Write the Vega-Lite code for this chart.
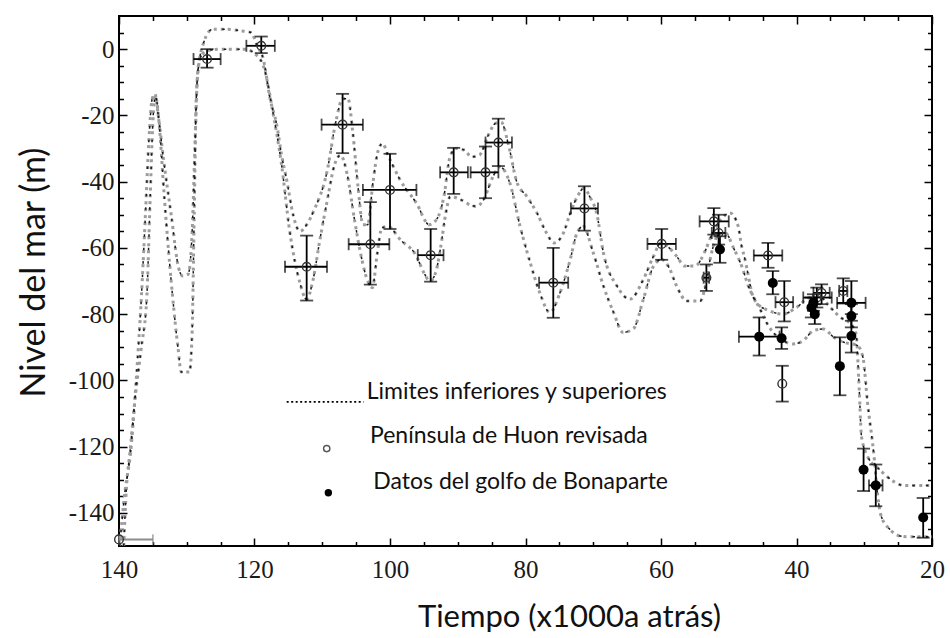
{
  "$schema": "https://vega.github.io/schema/vega-lite/v6.json",
  "width": 813,
  "height": 530,
  "autosize": "none",
  "padding": {"left": 119, "top": 16, "right": 18, "bottom": 92},
  "background": "white",
  "config": {
    "view": {"stroke": "#000", "strokeWidth": 2},
    "axis": {"grid": false, "domain": false, "tickColor": "#000", "tickWidth": 1.5}
  },
  "datasets": {
    "curvas": [
      {"t":139.9,"nivel":-150,"limite":"sup"},{"t":139.2,"nivel":-135,"limite":"sup"},{"t":138.2,"nivel":-120,"limite":"sup"},{"t":137.4,"nivel":-98,"limite":"sup"},{"t":136.7,"nivel":-75,"limite":"sup"},{"t":136.1,"nivel":-50,"limite":"sup"},{"t":135.6,"nivel":-28,"limite":"sup"},{"t":135.1,"nivel":-15,"limite":"sup"},{"t":134.7,"nivel":-13.5,"limite":"sup"},{"t":134.2,"nivel":-20,"limite":"sup"},{"t":133.5,"nivel":-32,"limite":"sup"},{"t":132.3,"nivel":-50,"limite":"sup"},{"t":131.2,"nivel":-66,"limite":"sup"},{"t":130.6,"nivel":-68.5,"limite":"sup"},{"t":129.8,"nivel":-68,"limite":"sup"},{"t":129.2,"nivel":-55,"limite":"sup"},{"t":128.8,"nivel":-30,"limite":"sup"},{"t":128.4,"nivel":-8,"limite":"sup"},{"t":127.5,"nivel":2,"limite":"sup"},{"t":126.2,"nivel":6,"limite":"sup"},{"t":124,"nivel":6,"limite":"sup"},{"t":122,"nivel":5.5,"limite":"sup"},{"t":120.5,"nivel":5,"limite":"sup"},{"t":119.6,"nivel":1,"limite":"sup"},{"t":118.7,"nivel":-3,"limite":"sup"},{"t":117.7,"nivel":-15,"limite":"sup"},{"t":116.7,"nivel":-23,"limite":"sup"},{"t":116,"nivel":-32,"limite":"sup"},{"t":115.2,"nivel":-40,"limite":"sup"},{"t":114.3,"nivel":-50,"limite":"sup"},{"t":113.3,"nivel":-55,"limite":"sup"},{"t":112.3,"nivel":-53,"limite":"sup"},{"t":111.3,"nivel":-49,"limite":"sup"},{"t":109.3,"nivel":-37,"limite":"sup"},{"t":108,"nivel":-22,"limite":"sup"},{"t":107,"nivel":-15,"limite":"sup"},{"t":106.2,"nivel":-15,"limite":"sup"},{"t":105.5,"nivel":-25,"limite":"sup"},{"t":104.7,"nivel":-42,"limite":"sup"},{"t":104,"nivel":-53,"limite":"sup"},{"t":103.3,"nivel":-53,"limite":"sup"},{"t":102.5,"nivel":-40,"limite":"sup"},{"t":101.8,"nivel":-31,"limite":"sup"},{"t":101.1,"nivel":-28.5,"limite":"sup"},{"t":100.3,"nivel":-32,"limite":"sup"},{"t":98.5,"nivel":-39.5,"limite":"sup"},{"t":96.1,"nivel":-46.5,"limite":"sup"},{"t":94.2,"nivel":-53,"limite":"sup"},{"t":93,"nivel":-51,"limite":"sup"},{"t":92,"nivel":-44,"limite":"sup"},{"t":91.2,"nivel":-33,"limite":"sup"},{"t":90.3,"nivel":-30,"limite":"sup"},{"t":89,"nivel":-30.5,"limite":"sup"},{"t":88,"nivel":-32.5,"limite":"sup"},{"t":86.8,"nivel":-32,"limite":"sup"},{"t":85.5,"nivel":-26,"limite":"sup"},{"t":84.5,"nivel":-22.5,"limite":"sup"},{"t":83.6,"nivel":-22,"limite":"sup"},{"t":82.5,"nivel":-29,"limite":"sup"},{"t":81.3,"nivel":-40,"limite":"sup"},{"t":79.8,"nivel":-44.5,"limite":"sup"},{"t":78.3,"nivel":-49.5,"limite":"sup"},{"t":76.9,"nivel":-55.5,"limite":"sup"},{"t":75.8,"nivel":-58.5,"limite":"sup"},{"t":74.4,"nivel":-55.5,"limite":"sup"},{"t":73.4,"nivel":-49.5,"limite":"sup"},{"t":72.2,"nivel":-44,"limite":"sup"},{"t":71.4,"nivel":-42,"limite":"sup"},{"t":70.4,"nivel":-45,"limite":"sup"},{"t":69.5,"nivel":-49.5,"limite":"sup"},{"t":68.5,"nivel":-61.5,"limite":"sup"},{"t":66.5,"nivel":-71.5,"limite":"sup"},{"t":64.6,"nivel":-75.5,"limite":"sup"},{"t":62.6,"nivel":-69.5,"limite":"sup"},{"t":61.1,"nivel":-62.5,"limite":"sup"},{"t":60,"nivel":-58.5,"limite":"sup"},{"t":58.8,"nivel":-60,"limite":"sup"},{"t":57.7,"nivel":-62.5,"limite":"sup"},{"t":56.5,"nivel":-65.5,"limite":"sup"},{"t":55,"nivel":-65.5,"limite":"sup"},{"t":53.5,"nivel":-61,"limite":"sup"},{"t":52.5,"nivel":-56,"limite":"sup"},{"t":51,"nivel":-51,"limite":"sup"},{"t":49.8,"nivel":-49.5,"limite":"sup"},{"t":48.6,"nivel":-53.5,"limite":"sup"},{"t":48.1,"nivel":-59.5,"limite":"sup"},{"t":47.6,"nivel":-63.5,"limite":"sup"},{"t":47.1,"nivel":-68.5,"limite":"sup"},{"t":46.6,"nivel":-73.5,"limite":"sup"},{"t":45.9,"nivel":-76.5,"limite":"sup"},{"t":44,"nivel":-79,"limite":"sup"},{"t":42,"nivel":-80,"limite":"sup"},{"t":40,"nivel":-78,"limite":"sup"},{"t":38,"nivel":-75,"limite":"sup"},{"t":36.5,"nivel":-75,"limite":"sup"},{"t":35,"nivel":-78,"limite":"sup"},{"t":33.5,"nivel":-81,"limite":"sup"},{"t":32,"nivel":-83,"limite":"sup"},{"t":31.2,"nivel":-86,"limite":"sup"},{"t":30.8,"nivel":-100,"limite":"sup"},{"t":30.4,"nivel":-117,"limite":"sup"},{"t":29.5,"nivel":-123,"limite":"sup"},{"t":27.7,"nivel":-127,"limite":"sup"},{"t":25.7,"nivel":-130.5,"limite":"sup"},{"t":24.2,"nivel":-131.7,"limite":"sup"},{"t":20,"nivel":-131.7,"limite":"sup"},
      {"t":139.3,"nivel":-150,"limite":"inf"},{"t":139,"nivel":-136,"limite":"inf"},{"t":138.3,"nivel":-120,"limite":"inf"},{"t":137.6,"nivel":-105,"limite":"inf"},{"t":136.7,"nivel":-90,"limite":"inf"},{"t":135.9,"nivel":-75,"limite":"inf"},{"t":135.4,"nivel":-45,"limite":"inf"},{"t":135,"nivel":-22,"limite":"inf"},{"t":134.6,"nivel":-14,"limite":"inf"},{"t":134.1,"nivel":-22,"limite":"inf"},{"t":133.3,"nivel":-45,"limite":"inf"},{"t":132.3,"nivel":-70,"limite":"inf"},{"t":131.3,"nivel":-90,"limite":"inf"},{"t":130.8,"nivel":-97.5,"limite":"inf"},{"t":129.6,"nivel":-97.5,"limite":"inf"},{"t":129.2,"nivel":-85,"limite":"inf"},{"t":128.9,"nivel":-50,"limite":"inf"},{"t":128.6,"nivel":-15,"limite":"inf"},{"t":128.1,"nivel":-3,"limite":"inf"},{"t":127,"nivel":-0.5,"limite":"inf"},{"t":125,"nivel":0,"limite":"inf"},{"t":121.3,"nivel":0,"limite":"inf"},{"t":120.2,"nivel":-1,"limite":"inf"},{"t":118.7,"nivel":-5,"limite":"inf"},{"t":117.2,"nivel":-20,"limite":"inf"},{"t":116,"nivel":-35,"limite":"inf"},{"t":114.8,"nivel":-55,"limite":"inf"},{"t":113.3,"nivel":-70.5,"limite":"inf"},{"t":112.3,"nivel":-75.6,"limite":"inf"},{"t":111.5,"nivel":-71,"limite":"inf"},{"t":110.3,"nivel":-57,"limite":"inf"},{"t":109.2,"nivel":-45,"limite":"inf"},{"t":108.2,"nivel":-35,"limite":"inf"},{"t":107.3,"nivel":-32,"limite":"inf"},{"t":106.3,"nivel":-38,"limite":"inf"},{"t":105.2,"nivel":-52,"limite":"inf"},{"t":104.1,"nivel":-64,"limite":"inf"},{"t":103.3,"nivel":-70,"limite":"inf"},{"t":102.6,"nivel":-72,"limite":"inf"},{"t":101.9,"nivel":-62,"limite":"inf"},{"t":101.2,"nivel":-54,"limite":"inf"},{"t":100.3,"nivel":-53.5,"limite":"inf"},{"t":98.5,"nivel":-57.5,"limite":"inf"},{"t":96.1,"nivel":-62.5,"limite":"inf"},{"t":95,"nivel":-67.5,"limite":"inf"},{"t":94.1,"nivel":-70,"limite":"inf"},{"t":93.2,"nivel":-67,"limite":"inf"},{"t":92.5,"nivel":-59.5,"limite":"inf"},{"t":91.8,"nivel":-50,"limite":"inf"},{"t":91.1,"nivel":-44.5,"limite":"inf"},{"t":89.5,"nivel":-45.5,"limite":"inf"},{"t":88.2,"nivel":-47,"limite":"inf"},{"t":87.2,"nivel":-47.5,"limite":"inf"},{"t":86.2,"nivel":-45.5,"limite":"inf"},{"t":84.8,"nivel":-38.5,"limite":"inf"},{"t":83.8,"nivel":-35.5,"limite":"inf"},{"t":82.3,"nivel":-40.5,"limite":"inf"},{"t":80.8,"nivel":-53.5,"limite":"inf"},{"t":79.3,"nivel":-64.5,"limite":"inf"},{"t":77.9,"nivel":-73.5,"limite":"inf"},{"t":76.4,"nivel":-79.5,"limite":"inf"},{"t":74.9,"nivel":-73.5,"limite":"inf"},{"t":73.4,"nivel":-63.5,"limite":"inf"},{"t":72.4,"nivel":-55.5,"limite":"inf"},{"t":71.5,"nivel":-53.5,"limite":"inf"},{"t":70,"nivel":-61.5,"limite":"inf"},{"t":68.5,"nivel":-71.5,"limite":"inf"},{"t":67,"nivel":-79.5,"limite":"inf"},{"t":65.6,"nivel":-85.5,"limite":"inf"},{"t":64.1,"nivel":-84.5,"limite":"inf"},{"t":62.6,"nivel":-75.5,"limite":"inf"},{"t":61.1,"nivel":-65.5,"limite":"inf"},{"t":59.9,"nivel":-63.5,"limite":"inf"},{"t":58.8,"nivel":-66,"limite":"inf"},{"t":57.7,"nivel":-71.5,"limite":"inf"},{"t":56.2,"nivel":-76,"limite":"inf"},{"t":54.2,"nivel":-76,"limite":"inf"},{"t":53.5,"nivel":-72,"limite":"inf"},{"t":52.6,"nivel":-62,"limite":"inf"},{"t":51.5,"nivel":-56,"limite":"inf"},{"t":50.5,"nivel":-55.5,"limite":"inf"},{"t":49.3,"nivel":-60,"limite":"inf"},{"t":48,"nivel":-66,"limite":"inf"},{"t":47.2,"nivel":-71,"limite":"inf"},{"t":45.5,"nivel":-78,"limite":"inf"},{"t":44,"nivel":-84,"limite":"inf"},{"t":42,"nivel":-88,"limite":"inf"},{"t":40.5,"nivel":-89,"limite":"inf"},{"t":39,"nivel":-88,"limite":"inf"},{"t":37.5,"nivel":-85,"limite":"inf"},{"t":36,"nivel":-84.5,"limite":"inf"},{"t":34.5,"nivel":-87,"limite":"inf"},{"t":33,"nivel":-88.5,"limite":"inf"},{"t":31,"nivel":-89.5,"limite":"inf"},{"t":30.2,"nivel":-93,"limite":"inf"},{"t":29.5,"nivel":-107,"limite":"inf"},{"t":28.6,"nivel":-122,"limite":"inf"},{"t":28,"nivel":-135,"limite":"inf"},{"t":27.5,"nivel":-141,"limite":"inf"},{"t":26.2,"nivel":-145,"limite":"inf"},{"t":24.7,"nivel":-147,"limite":"inf"},{"t":23.5,"nivel":-147.2,"limite":"inf"},{"t":20,"nivel":-147.2,"limite":"inf"}
    ],
    "puntos": [
      {"serie":"Huon","x":127.0,"y":-3,"xlo":125,"xhi":129,"ylo":-5.6,"yhi":0},
      {"serie":"Huon","x":119.0,"y":1,"xlo":117,"xhi":121.2,"ylo":-1.2,"yhi":3.8},
      {"serie":"Huon","x":107.0,"y":-22.8,"xlo":104,"xhi":110.1,"ylo":-31.4,"yhi":-13.5},
      {"serie":"Huon","x":112.3,"y":-65.7,"xlo":109.3,"xhi":115.5,"ylo":-75.9,"yhi":-56.3},
      {"serie":"Huon","x":100.0,"y":-42.5,"xlo":96.1,"xhi":104,"ylo":-54.3,"yhi":-31.6},
      {"serie":"Huon","x":102.9,"y":-58.9,"xlo":100.1,"xhi":106.1,"ylo":-71.1,"yhi":-46.2},
      {"serie":"Huon","x":94.0,"y":-62.2,"xlo":92.1,"xhi":95.9,"ylo":-70.2,"yhi":-54.3},
      {"serie":"Huon","x":90.6,"y":-37.2,"xlo":88.5,"xhi":92.6,"ylo":-43.7,"yhi":-29.8},
      {"serie":"Huon","x":85.9,"y":-37.2,"xlo":84.0,"xhi":88.1,"ylo":-45,"yhi":-29.4},
      {"serie":"Huon","x":84.0,"y":-28.2,"xlo":82.0,"xhi":85.9,"ylo":-35.3,"yhi":-21},
      {"serie":"Huon","x":75.9,"y":-70.5,"xlo":73.7,"xhi":78.0,"ylo":-81.1,"yhi":-60},
      {"serie":"Huon","x":71.3,"y":-48.1,"xlo":69.3,"xhi":73.3,"ylo":-54.8,"yhi":-41.4},
      {"serie":"Huon","x":59.9,"y":-58.8,"xlo":57.8,"xhi":62.0,"ylo":-63.6,"yhi":-54.3},
      {"serie":"Huon","x":52.2,"y":-52,"xlo":50,"xhi":54.3,"ylo":-56,"yhi":-48},
      {"serie":"Huon","x":51.5,"y":-55.5,"xlo":50.5,"xhi":52.5,"ylo":-59,"yhi":-50},
      {"serie":"Huon","x":53.3,"y":-69,"xlo":52.9,"xhi":53.7,"ylo":-73,"yhi":-65},
      {"serie":"Huon","x":44.2,"y":-62.3,"xlo":42.1,"xhi":46.3,"ylo":-66,"yhi":-58.5},
      {"serie":"Huon","x":41.8,"y":-76.4,"xlo":40.5,"xhi":43.1,"ylo":-82.2,"yhi":-70},
      {"serie":"Huon","x":42.1,"y":-101,"xlo":42.1,"xhi":42.1,"ylo":-106.4,"yhi":-95.6},
      {"serie":"Huon","x":37.0,"y":-75,"xlo":34.8,"xhi":39,"ylo":-78,"yhi":-72},
      {"serie":"Huon","x":36.3,"y":-73.6,"xlo":35.1,"xhi":37.5,"ylo":-77,"yhi":-71},
      {"serie":"Huon","x":33.1,"y":-73,"xlo":32.5,"xhi":33.7,"ylo":-76.8,"yhi":-69.2},
      {"serie":"Huon","x":140,"y":-148,"xlo":135,"xhi":140,"ylo":-148,"yhi":-148},
      {"serie":"Bonaparte","x":51.3,"y":-60.5,"xlo":51.3,"xhi":51.3,"ylo":-64.5,"yhi":-56.5},
      {"serie":"Bonaparte","x":43.5,"y":-70.6,"xlo":43.5,"xhi":43.5,"ylo":-74,"yhi":-67},
      {"serie":"Bonaparte","x":45.5,"y":-86.8,"xlo":42.5,"xhi":48.5,"ylo":-92.5,"yhi":-81},
      {"serie":"Bonaparte","x":42.2,"y":-87.3,"xlo":42.2,"xhi":42.2,"ylo":-90.5,"yhi":-84},
      {"serie":"Bonaparte","x":37.8,"y":-78,"xlo":37.8,"xhi":37.8,"ylo":-81,"yhi":-75},
      {"serie":"Bonaparte","x":37.3,"y":-80,"xlo":37.3,"xhi":37.3,"ylo":-83,"yhi":-77},
      {"serie":"Bonaparte","x":37.5,"y":-76.5,"xlo":37.5,"xhi":37.5,"ylo":-79,"yhi":-74},
      {"serie":"Bonaparte","x":33.6,"y":-95.7,"xlo":33.6,"xhi":33.6,"ylo":-104.5,"yhi":-87},
      {"serie":"Bonaparte","x":31.9,"y":-76.6,"xlo":29.8,"xhi":34,"ylo":-80,"yhi":-70},
      {"serie":"Bonaparte","x":31.9,"y":-80.6,"xlo":31.9,"xhi":31.9,"ylo":-84,"yhi":-77},
      {"serie":"Bonaparte","x":31.9,"y":-86.6,"xlo":31.9,"xhi":31.9,"ylo":-91.6,"yhi":-82},
      {"serie":"Bonaparte","x":30.1,"y":-127,"xlo":30.1,"xhi":30.1,"ylo":-133.4,"yhi":-120.6},
      {"serie":"Bonaparte","x":28.3,"y":-131.7,"xlo":27.3,"xhi":29.3,"ylo":-138,"yhi":-125.4},
      {"serie":"Bonaparte","x":21.3,"y":-141.4,"xlo":21.3,"xhi":21.3,"ylo":-147.5,"yhi":-135.5}
    ],
    "leyenda_linea": [
      {"t":115.25,"nivel":-106.5},{"t":103.9,"nivel":-106.5}
    ],
    "leyenda_simbolo": [
      {"t":109.34,"nivel":-120.6,"serie":"Huon"},
      {"t":109.1,"nivel":-133.9,"serie":"Bonaparte"}
    ],
    "leyenda_texto": [
      {"t":103.44,"nivel":-105.5,"texto":"Limites inferiores y superiores"},
      {"t":102.95,"nivel":-118.8,"texto":"Península de Huon revisada"},
      {"t":102.46,"nivel":-132.9,"texto":"Datos del golfo de Bonaparte"}
    ]
  },
  "resolve": {"axis": {"x": "independent", "y": "independent"}},
  "layer": [
    {
      "data": {"name": "curvas"},
      "mark": {"type": "line", "interpolate": "monotone", "stroke": "#9d9d9d", "strokeWidth": 3, "strokeDash": [3, 4], "clip": true},
      "encoding": {
        "x": {"field": "t", "type": "quantitative", "scale": {"domain": [20, 140], "reverse": true, "nice": false, "zero": false},
          "axis": {"orient": "bottom", "values": [140, 120, 100, 80, 60, 40, 20], "tickSize": -8, "labelFont": "Liberation Serif", "labelFontSize": 25, "labelColor": "#1a1a1a", "labelPadding": 19, "labelFlush": false,
            "title": "Tiempo (x1000a atrás)", "titleFont": "Lato", "titleFontSize": 31, "titleFontWeight": "normal", "titleColor": "#111", "titlePadding": 20, "titleX": 450}},
        "y": {"field": "nivel", "type": "quantitative", "scale": {"domain": [-150, 10], "nice": false, "zero": false},
          "axis": {"orient": "left", "values": [0, -20, -40, -60, -80, -100, -120, -140], "tickSize": -8, "labelFont": "Liberation Serif", "labelFontSize": 25, "labelColor": "#1a1a1a", "labelPadding": 13, "labelFlush": false,
            "labelExpr": "datum.value < 0 ? '-' + (-datum.value) : '' + datum.value",
            "title": "Nivel del mar (m)", "titleFont": "Lato", "titleFontSize": 34, "titleFontWeight": "normal", "titleColor": "#111", "titlePadding": 17, "titleY": 256}},
        "detail": {"field": "limite"}
      }
    },
    {
      "data": {"name": "curvas"},
      "mark": {"type": "line", "interpolate": "monotone", "stroke": "#1a1a1a", "strokeWidth": 1.5, "strokeDash": [2.5, 11], "clip": true},
      "encoding": {
        "x": {"field": "t", "type": "quantitative", "scale": {"domain": [20, 140], "reverse": true, "nice": false, "zero": false},
          "axis": {"orient": "bottom", "values": [135, 130, 125, 115, 110, 105, 95, 90, 85, 75, 70, 65, 55, 50, 45, 35, 30, 25], "tickSize": -4.5, "labels": false, "title": null}},
        "y": {"field": "nivel", "type": "quantitative", "scale": {"domain": [-150, 10], "nice": false, "zero": false},
          "axis": {"orient": "left", "values": [5, -5, -10, -15, -25, -30, -35, -45, -50, -55, -65, -70, -75, -85, -90, -95, -105, -110, -115, -125, -130, -135, -145], "tickSize": -4.5, "labels": false, "title": null}},
        "detail": {"field": "limite"}
      }
    },
    {
      "data": {"name": "puntos"},
      "transform": [{"filter": "datum.ylo != datum.yhi"}],
      "mark": {"type": "rule", "color": "#000", "strokeWidth": 1.8},
      "encoding": {
        "x": {"field": "x", "type": "quantitative", "scale": {"domain": [20, 140], "reverse": true, "nice": false, "zero": false},
          "axis": {"orient": "top", "values": [140, 120, 100, 80, 60, 40, 20], "tickSize": -8, "labels": false, "title": null}},
        "y": {"field": "ylo", "type": "quantitative", "scale": {"domain": [-150, 10], "nice": false, "zero": false},
          "axis": {"orient": "right", "values": [0, -20, -40, -60, -80, -100, -120, -140], "tickSize": -8, "labels": false, "title": null}},
        "y2": {"field": "yhi"}
      }
    },
    {
      "data": {"name": "puntos"},
      "transform": [{"filter": "datum.xlo != datum.xhi && datum.x < 139"}],
      "mark": {"type": "rule", "color": "#000", "strokeWidth": 1.8},
      "encoding": {
        "x": {"field": "xlo", "type": "quantitative", "scale": {"domain": [20, 140], "reverse": true, "nice": false, "zero": false},
          "axis": {"orient": "top", "values": [135, 130, 125, 115, 110, 105, 95, 90, 85, 75, 70, 65, 55, 50, 45, 35, 30, 25], "tickSize": -4.5, "labels": false, "title": null}},
        "x2": {"field": "xhi"},
        "y": {"field": "y", "type": "quantitative", "scale": {"domain": [-150, 10], "nice": false, "zero": false},
          "axis": {"orient": "right", "values": [5, -5, -10, -15, -25, -30, -35, -45, -50, -55, -65, -70, -75, -85, -90, -95, -105, -110, -115, -125, -130, -135, -145], "tickSize": -4.5, "labels": false, "title": null}}
      }
    },
    {
      "data": {"name": "puntos"},
      "transform": [{"filter": "datum.x >= 139"}],
      "mark": {"type": "rule", "color": "#8c8c8c", "strokeWidth": 2},
      "encoding": {
        "x": {"field": "xlo", "type": "quantitative", "scale": {"domain": [20, 140], "reverse": true, "nice": false, "zero": false}, "axis": null},
        "x2": {"field": "xhi"},
        "y": {"field": "y", "type": "quantitative", "scale": {"domain": [-150, 10], "nice": false, "zero": false}, "axis": null}
      }
    },
    {
      "data": {"name": "puntos"},
      "transform": [{"filter": "datum.x >= 139"}, {"fold": ["xlo", "xhi"], "as": ["k", "v"]}],
      "mark": {"type": "tick", "orient": "vertical", "color": "#8c8c8c", "size": 10, "thickness": 1.8},
      "encoding": {
        "x": {"field": "v", "type": "quantitative", "scale": {"domain": [20, 140], "reverse": true, "nice": false, "zero": false}, "axis": null},
        "y": {"field": "y", "type": "quantitative", "scale": {"domain": [-150, 10], "nice": false, "zero": false}, "axis": null}
      }
    },
    {
      "data": {"name": "puntos"},
      "transform": [{"filter": "datum.ylo != datum.yhi"}, {"fold": ["ylo", "yhi"], "as": ["k", "v"]}],
      "mark": {"type": "tick", "orient": "horizontal", "color": "#000", "size": 13, "thickness": 1.8},
      "encoding": {
        "x": {"field": "x", "type": "quantitative", "scale": {"domain": [20, 140], "reverse": true, "nice": false, "zero": false}, "axis": null},
        "y": {"field": "v", "type": "quantitative", "scale": {"domain": [-150, 10], "nice": false, "zero": false}, "axis": null}
      }
    },
    {
      "data": {"name": "puntos"},
      "transform": [{"filter": "datum.xlo != datum.xhi && datum.x < 139"}, {"fold": ["xlo", "xhi"], "as": ["k", "v"]}],
      "mark": {"type": "tick", "orient": "vertical", "color": "#000", "size": 12, "thickness": 1.8},
      "encoding": {
        "x": {"field": "v", "type": "quantitative", "scale": {"domain": [20, 140], "reverse": true, "nice": false, "zero": false}, "axis": null},
        "y": {"field": "y", "type": "quantitative", "scale": {"domain": [-150, 10], "nice": false, "zero": false}, "axis": null}
      }
    },
    {
      "data": {"name": "puntos"},
      "transform": [{"filter": "datum.serie == 'Huon'"}],
      "mark": {"type": "point", "shape": "circle", "filled": false, "stroke": "#333", "strokeWidth": 1.4, "size": 75, "opacity": 1},
      "encoding": {
        "x": {"field": "x", "type": "quantitative", "scale": {"domain": [20, 140], "reverse": true, "nice": false, "zero": false}, "axis": null},
        "y": {"field": "y", "type": "quantitative", "scale": {"domain": [-150, 10], "nice": false, "zero": false}, "axis": null}
      }
    },
    {
      "data": {"name": "puntos"},
      "transform": [{"filter": "datum.serie == 'Bonaparte'"}],
      "mark": {"type": "point", "shape": "circle", "filled": true, "color": "#000", "size": 100, "opacity": 1},
      "encoding": {
        "x": {"field": "x", "type": "quantitative", "scale": {"domain": [20, 140], "reverse": true, "nice": false, "zero": false}, "axis": null},
        "y": {"field": "y", "type": "quantitative", "scale": {"domain": [-150, 10], "nice": false, "zero": false}, "axis": null}
      }
    },
    {
      "data": {"name": "leyenda_linea"},
      "mark": {"type": "line", "stroke": "#000", "strokeWidth": 1.6, "strokeDash": [2, 2.5]},
      "encoding": {
        "x": {"field": "t", "type": "quantitative", "scale": {"domain": [20, 140], "reverse": true, "nice": false, "zero": false}, "axis": null},
        "y": {"field": "nivel", "type": "quantitative", "scale": {"domain": [-150, 10], "nice": false, "zero": false}, "axis": null}
      }
    },
    {
      "data": {"name": "leyenda_simbolo"},
      "transform": [{"filter": "datum.serie == 'Huon'"}],
      "mark": {"type": "point", "shape": "circle", "filled": false, "stroke": "#555", "strokeWidth": 1.4, "size": 40, "opacity": 1},
      "encoding": {
        "x": {"field": "t", "type": "quantitative", "scale": {"domain": [20, 140], "reverse": true, "nice": false, "zero": false}, "axis": null},
        "y": {"field": "nivel", "type": "quantitative", "scale": {"domain": [-150, 10], "nice": false, "zero": false}, "axis": null}
      }
    },
    {
      "data": {"name": "leyenda_simbolo"},
      "transform": [{"filter": "datum.serie == 'Bonaparte'"}],
      "mark": {"type": "point", "shape": "circle", "filled": true, "color": "#000", "size": 55, "opacity": 1},
      "encoding": {
        "x": {"field": "t", "type": "quantitative", "scale": {"domain": [20, 140], "reverse": true, "nice": false, "zero": false}, "axis": null},
        "y": {"field": "nivel", "type": "quantitative", "scale": {"domain": [-150, 10], "nice": false, "zero": false}, "axis": null}
      }
    },
    {
      "data": {"name": "leyenda_texto"},
      "mark": {"type": "text", "align": "left", "baseline": "alphabetic", "font": "Lato", "fontSize": 23, "color": "#111"},
      "encoding": {
        "x": {"field": "t", "type": "quantitative", "scale": {"domain": [20, 140], "reverse": true, "nice": false, "zero": false}, "axis": null},
        "y": {"field": "nivel", "type": "quantitative", "scale": {"domain": [-150, 10], "nice": false, "zero": false}, "axis": null},
        "text": {"field": "texto"}
      }
    }
  ]
}
